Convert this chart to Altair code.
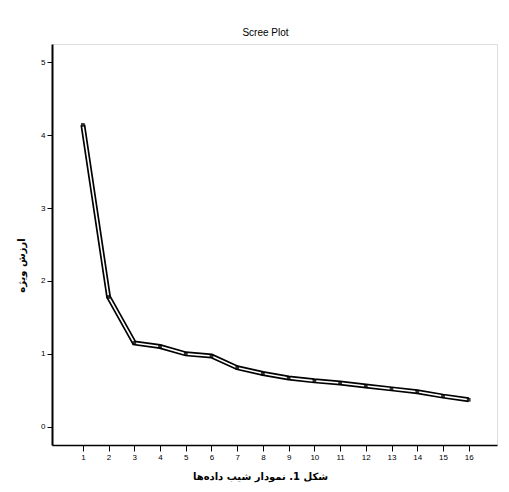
import altair as alt
import pandas as pd

components = list(range(1, 17))
eigenvalues = [4.14, 1.78, 1.15, 1.10, 1.00, 0.97, 0.81, 0.73, 0.67, 0.63, 0.60, 0.56, 0.52, 0.48, 0.42, 0.37]
y_ticks = [0, 1, 2, 3, 4, 5]

df = pd.DataFrame({"component": components, "eigen": eigenvalues})

xs = alt.Scale(domain=[-0.2, 17.1], nice=False, zero=False)
ys = alt.Scale(domain=[-0.25, 5.25], nice=False, zero=False)

x_enc = alt.X("component:Q", scale=xs,
              axis=alt.Axis(values=components, title="شکل 1. نمودار شیب داده‌ها",
                            labelFontSize=8, titleFontSize=10, titleFont="DejaVu Sans",
                            titleFontWeight="bold", grid=False, tickSize=6,
                            domainColor="black", tickColor="black", labelColor="black",
                            titleColor="black", titlePadding=10, domainWidth=1.5,
                            titleX=208, titleAlign="center"))
y_enc = alt.Y("eigen:Q", scale=ys,
              axis=alt.Axis(values=y_ticks, title="ارزش ویژه",
                            labelFontSize=8, titleFontSize=10, titleFont="DejaVu Sans",
                            titleFontWeight="bold", grid=False, tickSize=5,
                            domainColor="black", tickColor="black", labelColor="black",
                            titleColor="black", titlePadding=14, domainWidth=2,
                            titleY=221, titleAlign="center"))

base = alt.Chart(df).encode(x=x_enc, y=y_enc)

outer = base.mark_line(color="black", strokeWidth=5)
inner = base.mark_line(color="white", strokeWidth=1.6)
pts = base.mark_point(shape="square", size=14, color="black", filled=True, opacity=0.8)

chart = alt.layer(outer, inner, pts).properties(
    width=445, height=401,
    title=alt.TitleParams("Scree Plot", fontSize=10, fontWeight="normal", font="Liberation Sans",
                          color="black", offset=6, dx=-9),
    autosize=alt.AutoSizeParams(type="none"),
    padding={"left": 44, "top": 36, "right": 4, "bottom": 47},
).configure_view(stroke="black", strokeWidth=1.5).configure(background="white")

chart.save("out.html", embed_options={"renderer": "svg", "actions": False})
